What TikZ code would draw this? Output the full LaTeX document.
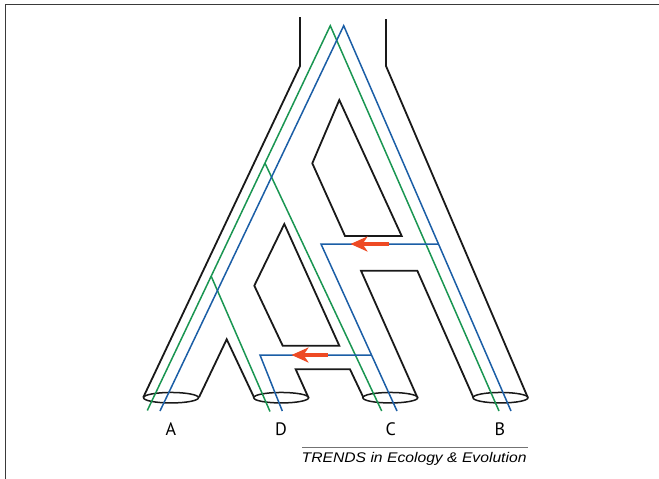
\documentclass[tikz,border=0pt]{standalone}
\usepackage{fontspec}
\setmainfont{PT Sans}
\newfontfamily\trendsfont{Liberation Sans}
\usetikzlibrary{arrows.meta,shapes.geometric}
\definecolor{gGreen}{HTML}{1A9652}
\definecolor{gBlue}{HTML}{1B5EA6}
\definecolor{gRed}{HTML}{EE4A24}
\definecolor{frameGray}{HTML}{3A3A3A}
\begin{document}
\begin{tikzpicture}[x=1pt,y=-1pt,
  species/.style={draw=black!90,line width=1.8pt,line join=miter},
  greenline/.style={draw=gGreen,line width=1.5pt},
  blueline/.style={draw=gBlue,line width=1.5pt},
  migr/.style={draw=gRed,line width=3.4pt,-{Stealth[length=17pt,width=15pt,inset=5pt]}},
  tipring/.style={ellipse,draw=black!90,line width=1.5pt,minimum width=55pt,minimum height=10.5pt,inner sep=0pt,outer sep=0pt},
  tiplabel/.style={font=\fontsize{18}{20}\selectfont,anchor=base,inner sep=0pt}]
\useasboundingbox (0,0) rectangle (659,479);
\fill[white] (0,0) rectangle (659,479);
% frame
\draw[frameGray,line width=1.4pt] (5.5,479) -- (5.5,4.5) -- (659,4.5);

% species tree outline
\draw[species] (300,17) -- (300,66) -- (143.3,397.3);
\draw[species] (199,397.3) -- (226.7,339.3) -- (254,397.3);
\draw[species] (308.3,397.3) -- (295.7,369.3) -- (350,369.3) -- (363.3,397.3);
\draw[species] (417.3,397.3) -- (361,270.7) -- (417.3,270.7) -- (473.3,397.3);
\draw[species] (527.7,397.3) -- (386,66) -- (386,19);
\draw[species] (339.3,100) -- (312.3,163.3) -- (345,236) -- (401.7,236) -- cycle;
\draw[species] (284.3,224) -- (254.3,285.7) -- (282.7,345.7) -- (339.3,345.7) -- cycle;

% tip rings
\node[tipring] (rA) at (171,397.7) {};
\node[tipring] (rD) at (281.2,397.7) {};
\node[tipring] (rC) at (390.3,397.7) {};
\node[tipring] (rB) at (500.5,397.7) {};

% green gene tree
\coordinate (g0) at (330.3,25.7);
\coordinate (g1) at (264.9,163);
\coordinate (g2) at (211.1,276);
\coordinate (gA) at (147.3,410.5);
\coordinate (gD) at (270,411.5);
\coordinate (gC) at (381.7,411);
\coordinate (gB) at (499,411);
\draw[greenline] (gA) -- (g0) -- (gB);
\draw[greenline] (g1) -- (gC);
\draw[greenline] (g2) -- (gD);

% blue gene tree
\coordinate (b0) at (343.7,25.7);
\coordinate (bA) at (160,411);
\coordinate (bB) at (511,411);
\coordinate (m1) at (438.5,244);
\coordinate (m1l) at (321,244);
\coordinate (bC) at (397,411);
\coordinate (m2) at (371.5,355);
\coordinate (m2l) at (260,355);
\coordinate (bD) at (282.3,411);
\draw[blueline] (bA) -- (b0) -- (bB);
\draw[blueline] (m1) -- (m1l) -- (bC);
\draw[blueline] (m2) -- (m2l) -- (bD);

% migration arrows
\coordinate (a1s) at (389,244);
\coordinate (a1e) at (350.5,244);
\coordinate (a2s) at (327.7,355);
\coordinate (a2e) at (291.5,355);
\draw[migr] (a1s) -- (a1e);
\draw[migr] (a2s) -- (a2e);

% labels
\node[tiplabel] (lA) at (171,435) {A};
\node[tiplabel] (lD) at (281,435) {D};
\node[tiplabel] (lC) at (390.7,435) {C};
\node[tiplabel] (lB) at (500,435) {B};

% credit
\draw[black!55,line width=1.2pt] (302.3,447.3) -- (528.3,447.3);
\node[anchor=base west,inner sep=0pt] (credit) at (301.5,462.3)
  {\scalebox{1.12}[1]{\trendsfont\itshape\fontsize{14}{16}\selectfont TRENDS in Ecology \& Evolution}};
\end{tikzpicture}
\end{document}
